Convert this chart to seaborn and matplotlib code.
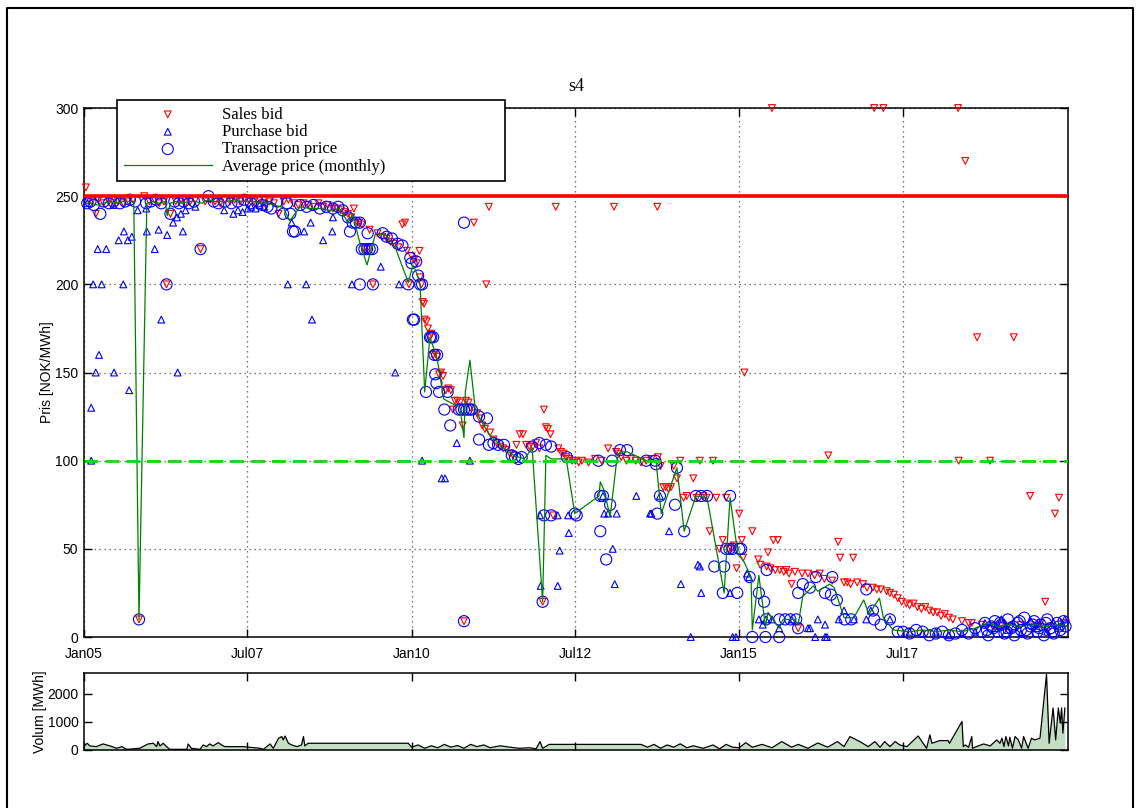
import numpy as np
import pandas as pd
import matplotlib
matplotlib.use('Agg')
import matplotlib.pyplot as plt
import matplotlib.dates as mdates
from matplotlib.lines import Line2D
import seaborn as sns

# values, time as decimal year, price in NOK/MWh
sales_t = [2005.03, 2005.08, 2005.12, 2005.18, 2005.22, 2005.30, 2005.38, 2005.45, 2005.52, 2005.60,
           2005.68, 2005.75, 2005.84, 2005.92, 2006.00, 2006.08, 2006.15, 2006.22, 2006.26, 2006.32,
           2006.40, 2006.48, 2006.55, 2006.62, 2006.70, 2006.78, 2006.85, 2006.93, 2007.00, 2007.08,
           2007.15, 2007.23, 2007.30, 2007.38, 2007.45, 2007.52, 2007.60, 2007.68, 2007.75, 2007.83,
           2007.90, 2007.97, 2008.05, 2008.12, 2008.20, 2008.27, 2008.35, 2008.42, 2008.50, 2008.58,
           2008.65, 2008.72, 2008.80, 2008.86, 2008.92, 2008.98, 2009.03, 2009.08, 2009.12, 2009.16,
           2009.20, 2009.24, 2009.28, 2009.32, 2009.36, 2009.41, 2009.48, 2009.55, 2009.62, 2009.68,
           2009.74, 2009.80, 2009.86, 2009.90, 2009.93, 2009.96, 2010.00, 2010.04, 2010.08, 2010.12,
           2010.13, 2010.15, 2010.17, 2010.19, 2010.20, 2010.23, 2010.25, 2010.28, 2010.30, 2010.33,
           2010.36, 2010.39, 2010.42, 2010.45, 2010.48, 2010.52, 2010.56, 2010.60, 2010.63, 2010.66,
           2010.70, 2010.74, 2010.78, 2010.80, 2010.83, 2010.87, 2010.90, 2010.95, 2011.00, 2011.04,
           2011.08, 2011.12, 2011.14, 2011.18, 2011.20, 2011.25, 2011.30, 2011.35, 2011.40, 2011.45,
           2011.50, 2011.55, 2011.60, 2011.65, 2011.70, 2011.75, 2011.80, 2011.85, 2011.90, 2011.95,
           2012.00, 2012.02, 2012.05, 2012.08, 2012.12, 2012.16, 2012.20, 2012.24, 2012.28, 2012.32,
           2012.36, 2012.40, 2012.45, 2012.50, 2012.55, 2012.60, 2012.70, 2012.80, 2012.90, 2013.00,
           2013.09, 2013.12, 2013.16, 2013.20, 2013.28, 2013.35, 2013.42, 2013.50, 2013.58, 2013.66,
           2013.75, 2013.76, 2013.80, 2013.84, 2013.88, 2013.92, 2013.96, 2014.00, 2014.05, 2014.10,
           2014.15, 2014.20, 2014.30, 2014.35, 2014.40, 2014.45, 2014.50, 2014.55, 2014.60, 2014.65,
           2014.70, 2014.75, 2014.80, 2014.84, 2014.88, 2014.92, 2014.96, 2015.00, 2015.04, 2015.06,
           2015.08, 2015.20, 2015.29, 2015.32, 2015.42, 2015.44, 2015.48, 2015.50, 2015.52, 2015.55,
           2015.59, 2015.62, 2015.68, 2015.72, 2015.76, 2015.80, 2015.85, 2015.90, 2015.96, 2016.05,
           2016.15, 2016.23, 2016.30, 2016.36, 2016.42, 2016.51, 2016.54, 2016.60, 2016.65, 2016.70,
           2016.74, 2016.80, 2016.89, 2016.95, 2017.04, 2017.06, 2017.10, 2017.16, 2017.20, 2017.25,
           2017.30, 2017.36, 2017.42, 2017.48, 2017.55, 2017.60, 2017.66, 2017.72, 2017.78, 2017.84,
           2017.90, 2017.96, 2018.02, 2018.08, 2018.14, 2018.20, 2018.26, 2018.34, 2018.35, 2018.40,
           2018.45, 2018.50, 2018.55, 2018.63, 2018.70, 2018.83, 2018.90, 2019.00, 2019.10, 2019.19,
           2019.30, 2019.44, 2019.50, 2019.60, 2019.67, 2019.75, 2019.82, 2019.88, 2019.95]
sales_p = [255, 248, 247, 240, 248, 246, 247, 246, 247, 246,
           247, 248, 10, 250, 247, 248, 246, 247, 200, 240,
           247, 248, 246, 247, 248, 220, 247, 248, 247, 246,
           248, 247, 248, 247, 249, 248, 247, 248, 246, 247,
           246, 240, 247, 248, 246, 245, 246, 245, 244, 246,
           244, 245, 243, 243, 242, 241, 240, 238, 243, 236,
           235, 234, 220, 220, 231, 200, 229, 227, 226, 224,
           223, 221, 234, 235, 219, 200, 216, 214, 212, 219,
           204, 200, 190, 189, 180, 179, 175, 170, 172, 160,
           161, 159, 149, 150, 148, 140, 141, 140, 129, 134,
           134, 133, 120, 9, 134, 133, 130, 235, 127, 124,
           120, 118, 200, 244, 116, 112, 110, 108, 107, 106,
           104, 103, 109, 115, 115, 109, 108, 108, 110, 107,
           20, 129, 119, 118, 115, 69, 244, 107, 105, 104,
           102, 101, 100, 100, 99, 100, 99, 101, 100, 107,
           244, 105, 104, 102, 100, 101, 100, 99, 100, 101,
           244, 102, 97, 85, 85, 84, 85, 97, 90, 100,
           79, 80, 90, 79, 100, 80, 79, 60, 100, 79,
           50, 55, 79, 50, 50, 52, 39, 70, 55, 45,
           150, 60, 44, 41, 40, 48, 39, 300, 55, 38,
           55, 38, 37, 38, 36, 30, 37, 5, 36, 36,
           35, 36, 33, 103, 32, 54, 45, 31, 31, 30,
           45, 31, 30, 28, 28, 300, 27, 27, 300, 26,
           25, 24, 22, 20, 19, 18, 19, 17, 16, 17,
           15, 14, 14, 12, 13, 11, 10, 300, 100, 9,
           270, 8, 8, 170, 7, 100, 6, 7, 6, 170,
           7, 80, 6, 8, 20, 6, 70, 79, 8]

purchase_t = [2005.11, 2005.14, 2005.27, 2005.60, 2006.18, 2005.23, 2005.18, 2005.46, 2006.43, 2005.69,
              2005.11, 2005.21, 2005.34, 2006.08, 2005.53, 2005.67, 2005.73, 2005.61, 2005.96, 2006.14,
              2006.27, 2006.51, 2006.36, 2006.42, 2006.48, 2006.55, 2005.82, 2005.95, 2007.14, 2007.28,
              2007.35, 2007.42, 2007.50, 2007.55, 2007.62, 2007.68, 2007.75, 2005.45, 2005.05, 2006.70,
              2008.17, 2008.36, 2008.46, 2008.65, 2008.79, 2008.80, 2008.11, 2008.39, 2008.48, 2009.09,
              2009.75, 2009.81, 2009.53, 2010.16, 2010.46, 2010.51, 2010.69, 2010.89, 2011.96, 2012.23,
              2012.39, 2012.40, 2012.26, 2011.97, 2012.23, 2012.92, 2012.94, 2013.00, 2013.13, 2013.07,
              2013.10, 2013.43, 2013.64, 2013.66, 2013.93, 2013.79, 2014.11, 2014.40, 2014.42, 2014.26,
              2014.90, 2014.95, 2014.86, 2014.37, 2015.12, 2015.15, 2015.30, 2015.36, 2015.41, 2015.50,
              2015.61, 2015.80, 2016.05, 2016.08, 2016.16, 2016.20, 2016.31, 2016.31, 2016.34, 2016.52,
              2016.60, 2016.75, 2016.94, 2017.01, 2017.30, 2017.60, 2017.80, 2018.00, 2018.20, 2018.40,
              2018.60, 2018.75, 2018.90, 2019.00, 2019.10, 2019.20, 2019.30, 2019.45, 2019.55, 2019.70,
              2019.80, 2019.90, 2019.97]
purchase_p = [100, 200, 200, 200, 180, 160, 150, 150, 150, 140,
              130, 220, 220, 220, 225, 225, 227, 230, 230, 231,
              228, 230, 235, 238, 240, 242, 242, 243, 242, 240,
              242, 241, 243, 244, 243, 245, 244, 245, 246, 244,
              235, 230, 235, 225, 230, 238, 200, 200, 180, 200,
              150, 200, 210, 100, 90, 90, 110, 100, 69, 69,
              69, 59, 49, 29, 29, 80, 70, 70, 70, 50,
              30, 80, 70, 70, 60, 80, 30, 40, 25, 0,
              0, 0, 25, 41, 36, 34, 10, 7, 10, 10,
              5, 10, 5, 5, 0, 10, 7, 0, 0, 10,
              15, 10, 10, 15, 10, 3, 2, 3, 1, 2,
              3, 8, 5, 10, 4, 6, 2, 9, 5, 3,
              8, 6, 10]

trans_t = [2005.05, 2005.10, 2005.15, 2005.25, 2005.30, 2005.38, 2005.45, 2005.55, 2005.63, 2005.70,
           2005.78, 2005.84, 2005.95, 2006.02, 2006.10, 2006.18, 2006.26, 2006.32, 2006.38, 2006.45,
           2006.52, 2006.60, 2006.68, 2006.78, 2006.90, 2006.98, 2007.05, 2007.15, 2007.25, 2007.35,
           2007.45, 2007.55, 2007.65, 2007.72, 2007.80, 2007.86, 2007.95, 2008.04, 2008.10, 2008.15,
           2008.19, 2008.22, 2008.30, 2008.40, 2008.50, 2008.60, 2008.70, 2008.80, 2008.88, 2008.95,
           2009.03, 2009.06, 2009.10, 2009.15, 2009.21, 2009.21, 2009.24, 2009.28, 2009.32, 2009.36,
           2009.40, 2009.41, 2009.33, 2009.56, 2009.62, 2009.70, 2009.79, 2009.86, 2009.95, 2009.98,
           2010.00, 2010.02, 2010.04, 2010.07, 2010.10, 2010.13, 2010.16, 2010.22, 2010.28, 2010.30,
           2010.33, 2010.35, 2010.39, 2010.36, 2010.38, 2010.42, 2010.50, 2010.55, 2010.59, 2010.72,
           2010.76, 2010.80, 2010.84, 2010.88, 2010.92, 2010.80, 2010.80, 2011.03, 2011.15, 2011.03,
           2011.18, 2011.25, 2011.32, 2011.41, 2011.53, 2011.58, 2011.63, 2011.68, 2011.84, 2011.95,
           2012.05, 2012.13, 2012.00, 2012.02, 2012.13, 2012.37, 2012.52, 2012.49, 2012.85, 2012.88,
           2012.92, 2013.03, 2012.88, 2012.97, 2013.06, 2013.18, 2013.29, 2013.58, 2013.72, 2013.73,
           2013.75, 2013.79, 2014.02, 2014.05, 2014.16, 2014.34, 2014.42, 2014.51, 2014.62, 2014.77,
           2014.75, 2014.86, 2014.80, 2014.85, 2014.90, 2014.97, 2015.03, 2015.00, 2015.16, 2015.42,
           2015.30, 2015.38, 2015.41, 2015.61, 2015.70, 2015.78, 2015.87, 2015.20, 2015.40, 2015.61,
           2015.90, 2015.90, 2015.97, 2016.08, 2016.17, 2016.42, 2016.31, 2016.40, 2016.49, 2016.61,
           2016.71, 2016.94, 2017.04, 2017.06, 2017.16, 2017.30, 2017.42, 2017.50, 2017.60, 2017.70,
           2017.80, 2017.90, 2018.00, 2018.10, 2018.20, 2018.30, 2018.40, 2018.50, 2018.60, 2018.70,
           2018.75, 2018.80, 2018.85, 2018.90, 2018.95, 2019.00, 2019.05, 2019.10, 2019.15, 2019.20,
           2019.25, 2019.30, 2019.35, 2019.40, 2019.45, 2019.50, 2019.55, 2019.60, 2019.65, 2019.70,
           2019.75, 2019.80, 2019.85, 2019.90, 2019.95, 2019.98, 2018.78, 2018.88, 2018.98, 2019.08,
           2019.18, 2019.28, 2019.38, 2019.48, 2019.58, 2019.68, 2019.78, 2019.88]
trans_p = [246, 247, 245, 240, 247, 246, 247, 246, 247, 248,
           247, 10, 246, 247, 248, 246, 200, 240, 247, 246,
           247, 246, 247, 220, 250, 247, 246, 247, 246, 247,
           248, 246, 247, 245, 244, 243, 247, 240, 246, 240,
           230, 230, 245, 244, 245, 243, 244, 243, 244, 242,
           238, 230, 235, 235, 235, 200, 220, 220, 220, 220,
           220, 200, 229, 229, 227, 226, 223, 222, 200, 215,
           212, 180, 180, 213, 205, 200, 200, 139, 170, 170,
           170, 160, 160, 149, 144, 139, 129, 139, 120, 129,
           129, 129, 129, 129, 129, 235, 9, 125, 124, 112,
           109, 110, 109, 109, 103, 102, 101, 102, 108, 110,
           109, 108, 20, 69, 69, 102, 69, 70, 100, 80,
           80, 75, 60, 44, 100, 106, 106, 100, 100, 98,
           70, 80, 75, 96, 60, 80, 80, 80, 40, 40,
           25, 80, 50, 50, 50, 25, 50, 50, 34, 38,
           25, 20, 10, 10, 10, 10, 10, 0, 0, 0,
           5, 25, 30, 28, 34, 34, 25, 24, 21, 10,
           10, 27, 15, 10, 7, 10, 3, 3, 2, 4,
           3, 1, 2, 3, 1, 2, 4, 2, 5, 3,
           8, 1, 6, 9, 3, 7, 2, 10, 5, 1,
           8, 4, 11, 2, 6, 9, 3, 7, 1, 10,
           5, 2, 8, 4, 9, 6, 4, 5, 8, 3,
           6, 9, 4, 7, 5, 8, 3, 6]

avg_t = [2005.04, 2005.12, 2005.20, 2005.30, 2005.40, 2005.50, 2005.60, 2005.70, 2005.76, 2005.84,
         2005.96, 2006.05, 2006.15, 2006.24, 2006.27, 2006.32, 2006.40, 2006.50, 2006.60, 2006.70,
         2006.80, 2006.90, 2007.00, 2007.10, 2007.20, 2007.30, 2007.40, 2007.50, 2007.60, 2007.70,
         2007.80, 2007.90, 2008.00, 2008.05, 2008.14, 2008.22, 2008.30, 2008.45, 2008.60, 2008.75,
         2008.90, 2009.03, 2009.10, 2009.20, 2009.32, 2009.45, 2009.60, 2009.75, 2009.95, 2010.02,
         2010.07, 2010.13, 2010.20, 2010.28, 2010.39, 2010.49, 2010.74, 2010.80, 2010.82, 2010.89,
         2010.97, 2011.04, 2011.18, 2011.41, 2011.56, 2011.72, 2011.84, 2012.00, 2012.05, 2012.13,
         2012.36, 2012.49, 2012.86, 2012.88, 2012.94, 2013.03, 2013.13, 2013.18, 2013.29, 2013.59,
         2013.73, 2013.81, 2014.05, 2014.16, 2014.34, 2014.51, 2014.77, 2014.86, 2014.98, 2015.07,
         2015.18, 2015.20, 2015.30, 2015.40, 2015.44, 2015.61, 2015.67, 2015.84, 2015.90, 2015.97,
         2016.13, 2016.20, 2016.38, 2016.45, 2016.60, 2016.75, 2016.90, 2016.98, 2017.14, 2017.20,
         2017.35, 2017.60, 2017.80, 2018.00, 2018.20, 2018.40, 2018.60, 2018.80, 2018.95, 2019.10,
         2019.30, 2019.50, 2019.70, 2019.90, 2020.00]
avg_p = [246, 246, 245, 246, 247, 246, 247, 247, 247, 10,
         246, 247, 246, 247, 239, 246, 247, 246, 247, 247,
         246, 248, 247, 247, 247, 248, 247, 247, 247, 246,
         246, 245, 244, 243, 236, 240, 244, 243, 243, 242,
         243, 235, 240, 225, 211, 229, 228, 221, 201, 211,
         207, 200, 139, 170, 158, 135, 130, 113, 139, 157,
         130, 124, 115, 107, 103, 101, 107, 20, 103, 101,
         101, 70, 80, 88, 83, 68, 100, 105, 105, 100,
         100, 70, 96, 60, 80, 79, 25, 79, 47, 43,
         34, 4, 35, 6, 14, 5, 10, 10, 7, 23,
         29, 26, 30, 28, 11, 11, 21, 13, 22, 11,
         4, 3, 4, 3, 4, 3, 5, 8, 6, 7,
         6, 7, 6, 7, 6]

vol_t = [2005.02, 2005.05, 2005.09, 2005.19, 2005.29, 2005.40, 2005.50, 2005.58, 2005.65, 2005.85,
         2005.90, 2005.98, 2006.06, 2006.11, 2006.13, 2006.16, 2006.21, 2006.26, 2006.31, 2006.57,
         2006.59, 2006.64, 2006.77, 2006.82, 2006.87, 2006.92, 2006.97, 2007.05, 2007.10, 2007.15,
         2007.43, 2007.69, 2007.74, 2007.84, 2007.89, 2007.97, 2008.02, 2008.04, 2008.07, 2008.12,
         2008.17, 2008.25, 2008.32, 2008.35, 2008.37, 2008.42, 2008.75, 2009.50, 2009.95, 2010.00,
         2010.10, 2010.20, 2010.30, 2010.40, 2010.50, 2010.60, 2010.70, 2010.80, 2010.90, 2011.00,
         2011.10, 2011.20, 2011.35, 2011.50, 2011.65, 2011.80, 2011.90, 2011.96, 2012.00, 2012.10,
         2013.50, 2013.60, 2013.70, 2013.80, 2013.90, 2014.00, 2014.10, 2014.20, 2014.30, 2014.45,
         2014.60, 2014.70, 2014.80, 2014.90, 2015.00, 2015.10, 2015.20, 2015.35, 2015.50, 2015.65,
         2015.80, 2015.90, 2016.05, 2016.20, 2016.35, 2016.50, 2016.60, 2016.69, 2016.84, 2016.97,
         2017.07, 2017.15, 2017.22, 2017.30, 2017.38, 2017.45, 2017.56, 2017.73, 2017.86, 2017.91,
         2017.94, 2018.06, 2018.19, 2018.21, 2018.40, 2018.42, 2018.45, 2018.50, 2018.55, 2018.56,
         2018.62, 2018.73, 2018.83, 2018.93, 2018.98, 2019.01, 2019.04, 2019.07, 2019.11, 2019.13,
         2019.17, 2019.21, 2019.26, 2019.31, 2019.34, 2019.41, 2019.46, 2019.51, 2019.59, 2019.69,
         2019.73, 2019.79, 2019.83, 2019.87, 2019.90, 2019.92, 2019.94, 2019.97]
vol_v = [180, 240, 144, 120, 216, 144, 60, 120, 24, 60,
         120, 216, 240, 120, 300, 144, 240, 120, 24, 24,
         216, 60, 24, 180, 120, 216, 144, 264, 180, 120,
         120, 60, 24, 216, 60, 420, 480, 360, 500, 240,
         180, 120, 180, 480, 144, 240, 240, 240, 240, 100,
         180, 60, 150, 80, 200, 100, 160, 60, 200, 120,
         180, 80, 150, 100, 60, 80, 40, 300, 60, 200,
         200, 100, 200, 60, 180, 100, 220, 80, 150, 60,
         180, 40, 200, 100, 80, 260, 100, 200, 80, 300,
         100, 200, 60, 250, 100, 300, 120, 480, 300, 120,
         300, 96, 300, 120, 300, 180, 120, 500, 60, 540,
         240, 335, 335, 240, 1020, 120, 180, 96, 480, 60,
         120, 216, 144, 360, 240, 420, 120, 480, 144, 455,
         60, 480, 360, 60, 480, 60, 420, 360, 420, 2700,
         240, 1500, 360, 1500, 960, 1500, 600, 1500]

tick_dates = ['2005-01-01', '2007-07-01', '2010-01-01', '2012-07-01', '2015-01-01', '2017-07-01']


def to_date(years):
    years = np.asarray(years, dtype=float)
    return pd.Timestamp('2005-01-01') + pd.to_timedelta((years - 2005.0) * 365.25, unit='D')


plt.rcParams['font.family'] = ['Liberation Sans', 'DejaVu Sans']
plt.rcParams['font.size'] = 10
serif = ['Liberation Serif', 'DejaVu Serif']

fig = plt.figure(figsize=(11.36, 8.08), dpi=100)
ax = fig.add_axes([0.0739, 0.2116, 0.8662, 0.6547])
ax2 = fig.add_axes([0.0739, 0.0718, 0.8662, 0.0953])

# price panel
sns.scatterplot(x=to_date(sales_t), y=sales_p, marker='v', s=24, fc='none', ec='red',
                linewidth=0.8, clip_on=False, zorder=3, ax=ax, label='Sales bid')
sns.scatterplot(x=to_date(purchase_t), y=purchase_p, marker='^', s=24, fc='none', ec='blue',
                linewidth=0.8, clip_on=False, zorder=3, ax=ax, label='Purchase bid')
sns.scatterplot(x=to_date(trans_t), y=trans_p, marker='o', s=64, fc='none', ec='blue',
                linewidth=0.8, clip_on=False, zorder=4, ax=ax, label='Transaction price')
sns.lineplot(x=to_date(avg_t), y=avg_p, color=(0, 0.5, 0), lw=0.9, estimator=None,
             sort=False, zorder=5, ax=ax, label='Average price (monthly)')
ax.axhline(250, color='red', lw=2.6, zorder=6)
ax.axhline(100, color='#00dd00', lw=2, ls=(0, (5, 2.5)), zorder=6)

xmin, xmax = pd.Timestamp('2005-01-01'), pd.Timestamp('2020-01-08')
ticks = pd.to_datetime(tick_dates)

ax.set_xlim(xmin, xmax)
ax.set_ylim(0, 300)
ax.set_yticks(range(0, 301, 50))
ax.set_xticks(ticks)
ax.xaxis.set_major_formatter(mdates.DateFormatter('%b%y'))
ax.grid(True, color='0.3', linestyle=(0, (1, 3)), linewidth=0.9)
ax.tick_params(direction='in', top=True, right=True, length=6, width=1, labelsize=10)
ax.tick_params(axis='x', pad=7)
ax.tick_params(axis='y', pad=4)
ax.set_xlabel('')
ax.set_ylabel('Pris [NOK/MWh]', fontsize=10, labelpad=1)
ax.set_title('s4', family=serif, fontsize=13, pad=12)
for sp in ax.spines.values():
    sp.set_linewidth(1.1)

handles, labels = ax.get_legend_handles_labels()
leg = ax.legend(handles[:4], labels[:4], loc='upper left',
                bbox_to_anchor=(0.0335, 0.86, 0.394, 0.155), mode='expand',
                borderaxespad=0, borderpad=0.4, labelspacing=0.08,
                handlelength=5.3, handletextpad=0.6, fancybox=False,
                framealpha=1, edgecolor='black', prop={'family': serif, 'size': 12})
leg.get_frame().set_linewidth(1.2)
leg.set_zorder(10)

# volume panel
vdates = to_date(vol_t)
ax2.fill_between(vdates, vol_v, color='#c3dec3', lw=0)
sns.lineplot(x=vdates, y=vol_v, color='black', lw=0.9, estimator=None, sort=False, ax=ax2)
ax2.set_xlim(xmin, xmax)
ax2.set_ylim(0, 2750)
ax2.set_yticks([0, 1000, 2000])
ax2.set_xticks(ticks)
ax2.tick_params(direction='in', top=True, right=True, length=6, width=1, pad=4,
                labelbottom=False, labelsize=10)
ax2.set_xlabel('')
ax2.set_ylabel('Volum [MWh]', fontsize=10, labelpad=0)
for sp in ax2.spines.values():
    sp.set_linewidth(1.1)

# frame round the figure
fig.add_artist(Line2D([7 / 1136, 7 / 1136, 1133 / 1136, 1133 / 1136], [0, 0.99, 0.99, 0],
                      transform=fig.transFigure, color='black', lw=1.5))

fig.savefig('out.png', dpi=100)
